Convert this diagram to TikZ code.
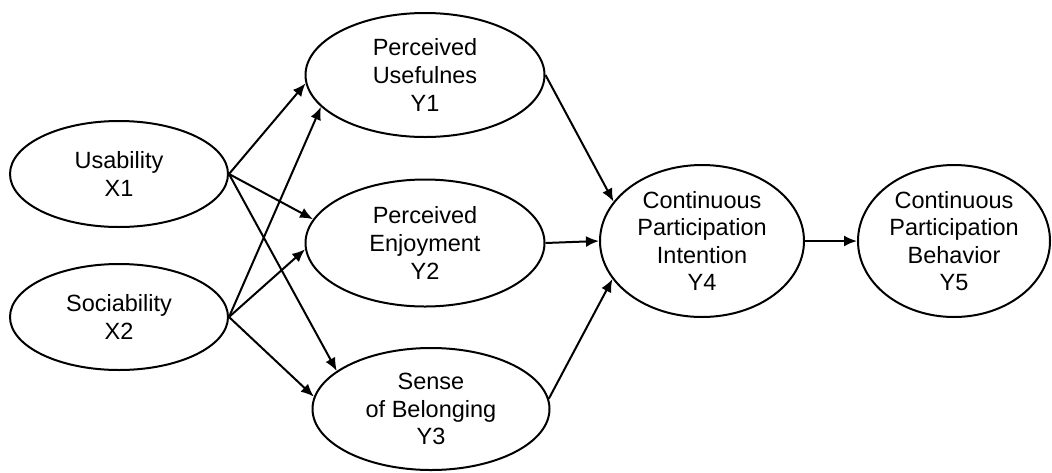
\documentclass[tikz,border=0pt]{standalone}
\usepackage{fontspec}
\setmainfont{Liberation Sans}
\usetikzlibrary{shapes.geometric,arrows.meta}

\tikzset{
  latent/.style={ellipse, draw, line width=2pt, inner sep=0pt, align=center,
    font=\fontsize{23.5}{27.6}\selectfont},
  link/.style={-{Latex[length=13pt,width=11pt]}, line width=2pt}
}

\begin{document}
\begin{tikzpicture}[x=1pt, y=-1pt]
  \useasboundingbox (0,0) rectangle (1052,472);
  \node[latent, minimum width=218, minimum height=106] (x1) at (119,174) {Usability\\X1};
  \node[latent, minimum width=218, minimum height=106] (x2) at (119,317) {Sociability\\X2};
  \node[latent, minimum width=239, minimum height=124] (y1) at (425,75) {Perceived\\Usefulnes\\Y1};
  \node[latent, minimum width=239, minimum height=127] (y2) at (425,243) {Perceived\\Enjoyment\\Y2};
  \node[latent, minimum width=237, minimum height=122] (y3) at (431,409) {Sense\\of Belonging\\Y3};
  \node[latent, minimum width=204, minimum height=152] (y4) at (702,241) {Continuous\\Participation\\Intention\\Y4};
  \node[latent, minimum width=192, minimum height=152] (y5) at (954,241) {Continuous\\Participation\\Behavior\\Y5};
  \path[link]
  (x1.east) edge (y1.184)
  (x1.east) edge (y2.168)
  (x1.east) edge (y3.158)
  ;
  \path[link]
  (x2.east) edge (y1.197)
  (x2.east) edge (y2.183)
  (x2.east) edge (y3.174)
  ;
  \path[link]
  (y1.east) edge (y4.156)
  (y2.east) edge (y4.west)
  (y3.5) edge (y4.203)
  (y4.east) edge (y5.west)
  ;
\end{tikzpicture}
\end{document}
